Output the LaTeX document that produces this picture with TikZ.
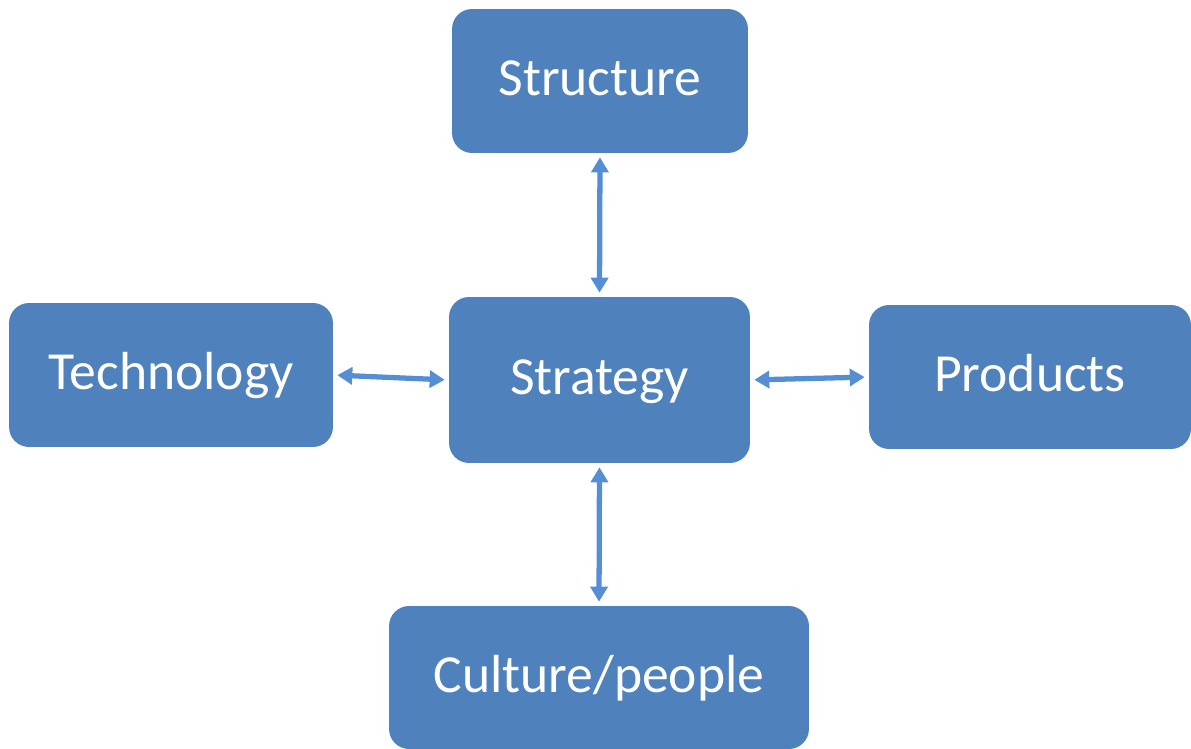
\documentclass[tikz,border=0pt]{standalone}
\usepackage{fontspec}
\setmainfont{Carlito}
\usepackage{xcolor}
\usetikzlibrary{arrows.meta, positioning}

\definecolor{boxblue}{HTML}{4F81BD}
\definecolor{linkblue}{HTML}{558ED5}

\tikzset{
    blok/.style={rectangle, rounded corners=0.4cm, fill=boxblue, text=white,
        inner sep=0pt, text height=22pt, text depth=5pt,
        font=\fontsize{30.5}{36}\selectfont},
    link/.style={{Triangle[width=0.34cm, length=0.3cm]}-{Triangle[width=0.34cm, length=0.3cm]},
        draw=linkblue, line width=3pt, shorten <=0.08cm, shorten >=0.08cm}
}

\begin{document}
\begin{tikzpicture}[x=0.02cm, y=-0.02cm]
    \useasboundingbox (0,0) rectangle (1191,749);

    % 1. Các khối
    \node[blok, minimum width=6.02cm, minimum height=3.32cm] (strategy) at (599.5,380) {Strategy};
    \node[blok, minimum width=5.92cm, minimum height=2.88cm] (structure) at (600,81) {Structure};
    \node[blok, minimum width=6.48cm, minimum height=2.88cm] (technology) at (171,375) {Technology};
    \node[blok, minimum width=6.44cm, minimum height=2.88cm] (products) at (1030,377) {Products};
    \node[blok, minimum width=8.4cm, minimum height=2.86cm] (culture) at (599,677.5) {Culture/people};

    % 2. Mũi tên hai chiều
    \draw[link] (structure.south) -- (strategy.north);
    \draw[link] (strategy.south) -- (culture.north);
    \draw[link] (technology.east) -- (strategy.west);
    \draw[link] (strategy.east) -- (products.west);

\end{tikzpicture}
\end{document}
